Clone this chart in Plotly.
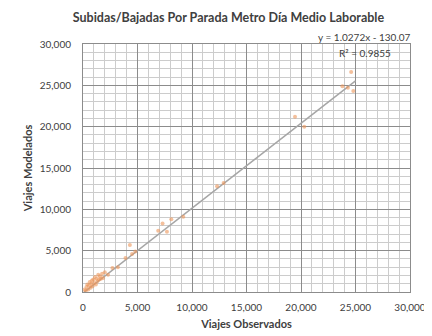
import plotly.graph_objects as go

# Observed vs modelled boardings/alightings per metro stop
observados = [150, 250, 320, 400, 480, 550, 620, 700, 760, 820, 880, 950, 1020, 1100, 1180,
              1250, 1320, 1400, 1480, 1550, 1650, 1750, 1850, 2000, 2300, 2700, 3200,
              3900, 4300, 4500, 4800, 6900, 7300, 7700, 8100, 9200, 12300, 12900,
              19450, 20300, 23800, 24300, 24600, 24800]
modelados = [300, 150, 600, 900, 300, 800, 1200, 500, 1000, 1400, 700, 1500, 1100, 1800, 900,
             1600, 1300, 2100, 1500, 1900, 1600, 2200, 1700, 2400, 2100, 2900, 3000,
             4100, 5700, 4600, 4900, 7400, 8300, 7300, 8800, 9100, 12800, 13200,
             21200, 20000, 24900, 24700, 26600, 24300]

slope = 1.0272
intercept = -130.07
trend_x = [0, 25000]
trend_y = [slope * v + intercept for v in trend_x]

title_text = "Subidas/Bajadas Por Parada Metro Día Medio Laborable"
eq_line1 = "y = 1.0272x - 130.07"
eq_line2 = "R² = 0.9855"

fig = go.Figure()
fig.add_trace(go.Scatter(x=trend_x, y=trend_y, mode="lines",
                         line=dict(color="#a6a6a6", width=1.5), showlegend=False))
fig.add_trace(go.Scatter(x=observados, y=modelados, mode="markers",
                         marker=dict(color="rgba(237,150,90,0.6)", size=4,
                                     line=dict(width=0)),
                         showlegend=False))

axis_common = dict(range=[0, 30000], dtick=5000, tickformat=",d",
                   showgrid=True, gridcolor="#8c8c8c", gridwidth=1,
                   minor=dict(dtick=1000, showgrid=True, gridcolor="#cccccc", gridwidth=1),
                   showline=True, linecolor="#8c8c8c", mirror=True,
                   zeroline=False, ticks="", tickfont=dict(size=10, color="#404040"),
                   fixedrange=True, automargin=False)

# page body has an 8px margin, so the figure is sized to the remaining area
fig.update_layout(
    width=424, height=328,
    margin=dict(l=75, r=22, t=36, b=44),
    paper_bgcolor="white", plot_bgcolor="white",
    font=dict(family="Lato, Liberation Sans, sans-serif", color="#404040"),
    title=dict(text="<b>" + title_text + "</b>", x=0.52, xanchor="center",
               y=0.972, yanchor="middle", font=dict(size=12.5, color="#404040")),
    xaxis=dict(axis_common, ticklabelstandoff=6,
               title=dict(text="<b>Viajes Observados</b>", font=dict(size=11), standoff=8)),
    yaxis=dict(axis_common, ticklabelstandoff=9,
               title=dict(text="<b>Viajes Modelados</b>", font=dict(size=11), standoff=4)),
    annotations=[
        dict(text=eq_line1, x=0.862, y=1.0, xref="paper", yref="paper",
             xanchor="center", yanchor="middle", showarrow=False,
             font=dict(size=10, color="#404040"), yshift=7),
        dict(text=eq_line2, x=0.862, y=1.0, xref="paper", yref="paper",
             xanchor="center", yanchor="middle", showarrow=False,
             font=dict(size=10, color="#404040"), yshift=-9),
    ],
)

fig.write_html("out.html")
